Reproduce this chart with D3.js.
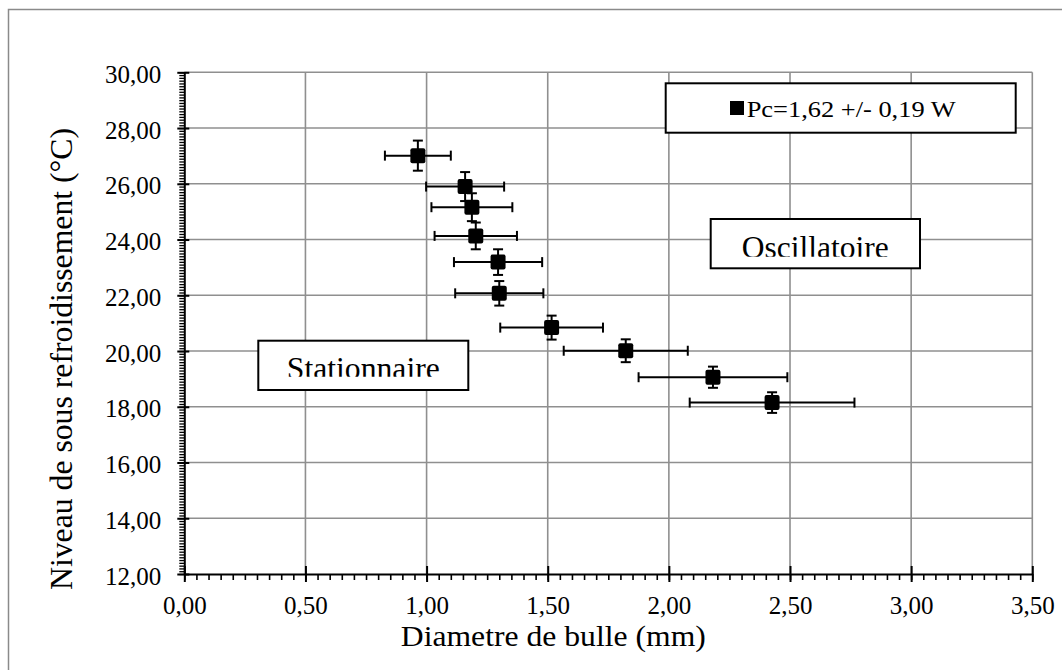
<!DOCTYPE html>
<html>
<head>
<meta charset="utf-8">
<script src="https://cdn.jsdelivr.net/npm/d3@7"></script>
<style>
  body { margin: 0; background: #fff; }
  svg { display: block; }
</style>
</head>
<body>
<script>
// values
const diam = [0.964, 1.159, 1.187, 1.203, 1.295, 1.300, 1.516, 1.822, 2.182, 2.426];
const niveau = [27.01, 25.90, 25.16, 24.13, 23.19, 22.07, 20.84, 20.01, 19.06, 18.15];
const errDiam = [0.136, 0.161, 0.167, 0.170, 0.182, 0.182, 0.212, 0.256, 0.307, 0.340];
const errNiveau = [0.54, 0.52, 0.50, 0.48, 0.46, 0.44, 0.43, 0.41, 0.38, 0.37];

const xTicks = [0, 0.5, 1, 1.5, 2, 2.5, 3, 3.5];
const yTicks = [12, 14, 16, 18, 20, 22, 24, 26, 28, 30];
const legendLabel = "Pc=1,62 +/- 0,19 W";
const xTitle = "Diametre de bulle (mm)";
const yTitle = "Niveau de sous refroidissement (°C)";

const width = 1062, height = 670;
const font = "'Liberation Serif', 'Times New Roman', serif";
const fmt = v => d3.format(".2f")(v).replace(".", ",");

const x = d3.scaleLinear([0, 3.5], [184.3, 1032.3]);
const y = d3.scaleLinear([12, 30], [574, 72.3]);

const svg = d3.select("body").append("svg")
  .attr("width", width)
  .attr("height", height)
  .attr("font-family", font);

// outer frame (only left/top edges fall inside the picture)
svg.append("rect")
  .attr("x", 8.5).attr("y", 9.5)
  .attr("width", 1100).attr("height", 700)
  .attr("fill", "none")
  .attr("stroke", "#8a8a8a")
  .attr("stroke-width", 1.5);

// grid
const grid = svg.append("g").attr("stroke", "#8f8f8f").attr("stroke-width", 1.6);
grid.selectAll(".vx")
  .data(xTicks.slice(1))
  .join("line")
  .attr("x1", d => x(d)).attr("x2", d => x(d))
  .attr("y1", y(30)).attr("y2", y(12));
grid.selectAll(".hy")
  .data(yTicks.slice(1))
  .join("line")
  .attr("x1", x(0)).attr("x2", x(3.5))
  .attr("y1", d => y(d)).attr("y2", d => y(d));

// minor ticks
svg.append("g")
  .attr("transform", `translate(0,${y(12)})`)
  .call(d3.axisBottom(x).tickValues(d3.range(0, 3.5001, 0.05)).tickSize(6).tickFormat(""))
  .call(g => g.select(".domain").remove())
  .call(g => g.selectAll(".tick line").attr("stroke", "#000").attr("stroke-width", 1.6));
svg.append("g")
  .attr("transform", `translate(${x(0)},0)`)
  .call(d3.axisLeft(y).tickValues(d3.range(12, 30.001, 0.1)).tickSize(5).tickFormat(""))
  .call(g => g.select(".domain").remove())
  .call(g => g.selectAll(".tick line").attr("stroke", "#000").attr("stroke-width", 1.3));

// major axes
svg.append("g")
  .attr("transform", `translate(0,${y(12)})`)
  .call(d3.axisBottom(x).tickValues(xTicks).tickFormat(fmt).tickSizeOuter(0))
  .call(g => g.select(".domain").attr("stroke", "#000").attr("stroke-width", 2))
  .call(g => g.selectAll(".tick line").attr("stroke", "#000").attr("stroke-width", 2)
    .attr("y1", -8).attr("y2", 8))
  .call(g => g.selectAll(".tick text")
    .attr("y", 40).attr("dy", null)
    .attr("font-family", font).attr("font-size", 25).attr("fill", "#000"));

svg.append("g")
  .attr("transform", `translate(${x(0)},0)`)
  .call(d3.axisLeft(y).tickValues(yTicks).tickFormat(fmt).tickSizeOuter(0))
  .call(g => g.select(".domain").attr("stroke", "#000").attr("stroke-width", 2))
  .call(g => g.selectAll(".tick line").attr("stroke", "#000").attr("stroke-width", 2)
    .attr("x1", -7).attr("x2", 5))
  .call(g => g.selectAll(".tick text")
    .attr("x", -23).attr("dy", null).attr("y", 10)
    .attr("font-family", font).attr("font-size", 25).attr("fill", "#000"));

// region labels in boxes, text clipped at the bottom like the original
const boxes = [
  { label: "Oscillatoire", x0: 710.7, y0: 219, w: 209.3, h: 49.3, base: 258, clip: 256.7, len: 147 },
  { label: "Stationnaire", x0: 258.3, y0: 340.7, w: 210, h: 49.3, base: 379, clip: 376.7, len: 153 }
];
const defs = svg.append("defs");
boxes.forEach((b, i) => {
  defs.append("clipPath").attr("id", `clip-${i}`)
    .append("rect")
    .attr("x", b.x0).attr("y", b.y0)
    .attr("width", b.w).attr("height", b.clip - b.y0);
  svg.append("rect")
    .attr("x", b.x0).attr("y", b.y0)
    .attr("width", b.w).attr("height", b.h)
    .attr("fill", "#fff").attr("stroke", "#000").attr("stroke-width", 2);
  svg.append("text")
    .attr("clip-path", `url(#clip-${i})`)
    .attr("x", b.x0 + b.w / 2).attr("y", b.base)
    .attr("text-anchor", "middle")
    .attr("font-size", 31)
    .attr("textLength", b.len)
    .attr("lengthAdjust", "spacingAndGlyphs")
    .text(b.label);
});

// error bars
const pts = diam.map((d, i) => ({ x: d, y: niveau[i], ex: errDiam[i], ey: errNiveau[i] }));
const eb = svg.append("g").attr("stroke", "#000").attr("stroke-width", 2);
const cap = 5;
pts.forEach(p => {
  const cx = x(p.x), cy = y(p.y);
  const xl = x(p.x - p.ex), xr = x(p.x + p.ex);
  const yt = y(p.y + p.ey), yb = y(p.y - p.ey);
  eb.append("line").attr("x1", xl).attr("x2", xr).attr("y1", cy).attr("y2", cy);
  eb.append("line").attr("x1", xl).attr("x2", xl).attr("y1", cy - cap).attr("y2", cy + cap);
  eb.append("line").attr("x1", xr).attr("x2", xr).attr("y1", cy - cap).attr("y2", cy + cap);
  eb.append("line").attr("x1", cx).attr("x2", cx).attr("y1", yt).attr("y2", yb);
  eb.append("line").attr("x1", cx - cap).attr("x2", cx + cap).attr("y1", yt).attr("y2", yt);
  eb.append("line").attr("x1", cx - cap).attr("x2", cx + cap).attr("y1", yb).attr("y2", yb);
});

// markers
const ms = 15;
svg.append("g")
  .selectAll("rect")
  .data(pts)
  .join("rect")
  .attr("x", d => x(d.x) - ms / 2)
  .attr("y", d => y(d.y) - ms / 2)
  .attr("width", ms).attr("height", ms)
  .attr("rx", 2)
  .attr("fill", "#000");

// legend
const lg = svg.append("g");
lg.append("rect")
  .attr("x", 665.7).attr("y", 83.3)
  .attr("width", 350).attr("height", 49.4)
  .attr("fill", "#fff").attr("stroke", "#000").attr("stroke-width", 2);
lg.append("rect")
  .attr("x", 730).attr("y", 101)
  .attr("width", 14).attr("height", 14)
  .attr("fill", "#000");
lg.append("text")
  .attr("x", 746.7).attr("y", 116.7)
  .attr("font-size", 23)
  .attr("textLength", 209)
  .attr("lengthAdjust", "spacingAndGlyphs")
  .text(legendLabel);

// axis titles
svg.append("text")
  .attr("x", 553.3).attr("y", 646)
  .attr("text-anchor", "middle")
  .attr("font-size", 30)
  .attr("textLength", 305)
  .attr("lengthAdjust", "spacingAndGlyphs")
  .text(xTitle);

svg.append("text")
  .attr("transform", "translate(71.5,359) rotate(-90)")
  .attr("text-anchor", "middle")
  .attr("font-size", 32)
  .attr("textLength", 462)
  .attr("lengthAdjust", "spacingAndGlyphs")
  .text(yTitle);
</script>
</body>
</html>
